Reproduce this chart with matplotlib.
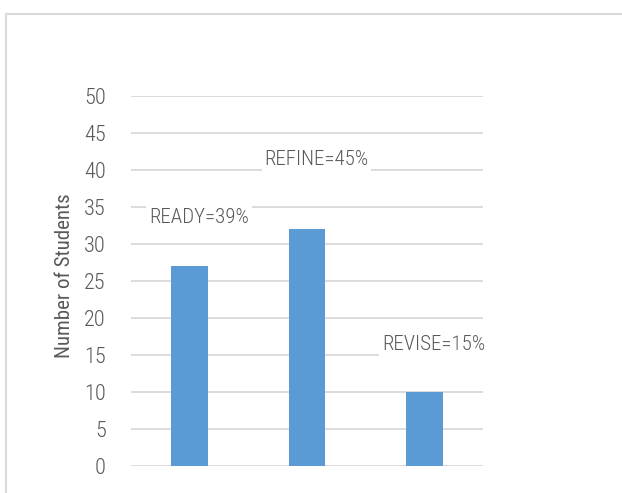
import matplotlib.pyplot as plt
from matplotlib.lines import Line2D

# Student counts per group, with the share of each group
groups = ['READY', 'REFINE', 'REVISE']
students = [27, 32, 10]
shares = [39, 45, 15]

plt.rcParams['font.family'] = ['Roboto Condensed', 'Fira Sans Condensed', 'DejaVu Sans']
plt.rcParams['font.weight'] = 'light'

fig = plt.figure(figsize=(6.22, 4.93), dpi=100)
ax = fig.add_axes([0.2106, 0.0548, 0.5659, 0.7505])

x = range(len(groups))
ax.bar(x, students, width=0.31, color='#5b9bd5', zorder=2)

ax.set_xlim(-0.5, len(groups) - 0.5)
ax.set_ylim(0, 50)
ax.set_yticks(range(0, 51, 5))
ax.set_xticks([])
ax.grid(axis='y', color='#d9d9d9', linewidth=1.3, zorder=0)
for s in ax.spines.values():
    s.set_visible(False)
ax.tick_params(axis='y', length=0, pad=18, labelsize=16, labelcolor='#595959')
ax.set_ylabel('Number of Students', fontsize=15, color='#595959')
ax.yaxis.set_label_coords(-0.162, 0.515)

# percentage labels sit above each bar on a white box
label_y = [33.6, 41.4, 16.4]
for i, (g, p) in enumerate(zip(groups, shares)):
    ax.text(i + 0.08, label_y[i], f'{g}={p}%', ha='center', va='center',
            fontsize=15, color='#595959', zorder=3,
            bbox=dict(facecolor='white', edgecolor='none', pad=2))

# chart frame (top and left edges only show)
fig.add_artist(Line2D([6 / 622, 1], [1 - 14 / 493, 1 - 14 / 493],
                      color='#d9d9d9', linewidth=1.5, transform=fig.transFigure))
fig.add_artist(Line2D([6 / 622, 6 / 622], [0, 1 - 14 / 493],
                      color='#d9d9d9', linewidth=1.5, transform=fig.transFigure))

fig.savefig('out.png', dpi=100)
